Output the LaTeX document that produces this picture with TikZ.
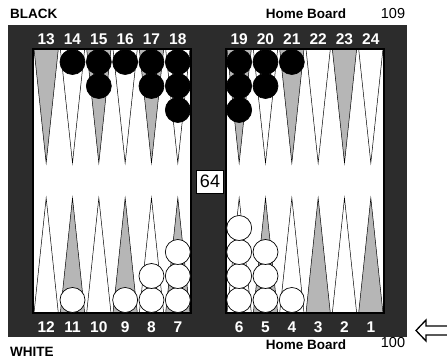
\documentclass[tikz,border=0pt]{standalone}
\usepackage{fontspec}
\setmainfont{Liberation Sans}
\definecolor{framecolor}{RGB}{44,44,44}
\definecolor{pointgray}{RGB}{182,182,182}

\begin{document}
\begin{tikzpicture}[
    x=1pt, y=-1pt,
    num/.style={text=white, font=\fontsize{15.5}{15.5}\selectfont\bfseries, inner sep=0pt},
    caption/.style={font=\fontsize{13.5}{13.5}\selectfont\bfseries, inner sep=0pt},
    pipcount/.style={font=\fontsize{14.5}{14.5}\selectfont, inner sep=0pt},
    pointtri/.style={draw=black, line width=0.5pt},
    checker/.style={draw=black, line width=0.7pt}
  ]
    \useasboundingbox (0,0) rectangle (447,358);

    %% Frame and the two halves of the board
    \fill[framecolor] (8,25) rectangle (407,337);
    \fill[white] (33,49) rectangle (191,313);
    \fill[white] (226,49) rectangle (384,313);

    %% Points (odd points grey)
    \foreach \xa in {33,226} {
      \foreach \i in {0,...,5} {
        \pgfmathsetmacro\xl{\xa+\i*26.33+1}
        \pgfmathsetmacro\xr{\xa+(\i+1)*26.33-1}
        \pgfmathsetmacro\xm{\xa+(\i+0.5)*26.33}
        \pgfmathtruncatemacro\odd{mod(\i,2)}
        \ifnum\odd=0 \def\topc{pointgray}\def\botc{white}\else \def\topc{white}\def\botc{pointgray}\fi
        \draw[pointtri, fill=\topc] (\xl,49) -- (\xm,163) -- (\xr,49);
        \draw[pointtri, fill=\botc] (\xl,313) -- (\xm,198) -- (\xr,313);
      }
    }
    \draw[line width=1.3pt] (33,49) rectangle (191,313);
    \draw[line width=1.3pt] (226,49) rectangle (384,313);

    %% Black checkers
    \foreach \xa/\i/\n in {33/1/1, 33/2/2, 33/3/1, 33/4/2, 33/5/3,
                           226/0/3, 226/1/2, 226/2/1} {
      \foreach \k in {1,...,\n} {
        \pgfmathsetmacro\cx{\xa+(\i+0.5)*26.33}
        \pgfmathsetmacro\cy{62+(\k-1)*24}
        \draw[checker, fill=black] (\cx,\cy) circle (12.5pt);
      }
    }

    %% White checkers
    \foreach \xa/\i/\n in {33/1/1, 33/3/1, 33/4/2, 33/5/3,
                           226/0/4, 226/1/3, 226/2/1} {
      \foreach \k in {1,...,\n} {
        \pgfmathsetmacro\cx{\xa+(\i+0.5)*26.33}
        \pgfmathsetmacro\cy{300-(\k-1)*24}
        \draw[checker, fill=white] (\cx,\cy) circle (12.5pt);
      }
    }

    %% Point numbers
    \foreach \n [count=\i from 0] in {13,...,18}
      \node[num] (p\n) at ({33+(\i+0.5)*26.33},39) {\n};
    \foreach \n [count=\i from 0] in {19,...,24}
      \node[num] (p\n) at ({226+(\i+0.5)*26.33},39) {\n};
    \foreach \n [count=\i from 0] in {12,11,10,9,8,7}
      \node[num] (p\n) at ({33+(\i+0.5)*26.33},327) {\n};
    \foreach \n [count=\i from 0] in {6,5,4,3,2,1}
      \node[num] (p\n) at ({226+(\i+0.5)*26.33},327) {\n};

    %% Doubling cube
    \node[draw, fill=white, line width=0.8pt, minimum width=27pt, minimum height=23pt,
          inner sep=0pt, font=\fontsize{18}{18}\selectfont] (cube) at (210,181.5) {64};

    %% Captions and pip counts
    \node[caption, anchor=west] (black) at (10,14) {BLACK};
    \node[caption] (hometop) at (306,14) {Home Board};
    \node[pipcount] (pipblack) at (393,14) {109};
    \node[caption, anchor=west] (white) at (10,352) {WHITE};
    \node[caption] (homebot) at (306,345) {Home Board};
    \node[pipcount] (pipwhite) at (393,343) {100};

    %% Turn arrow
    \draw[fill=white, line width=1.3pt, line join=miter]
      (448,326) -- (426,326) -- (426,320) -- (416,330.5)
      -- (426,341) -- (426,335) -- (448,335);
  \end{tikzpicture}
\end{document}
